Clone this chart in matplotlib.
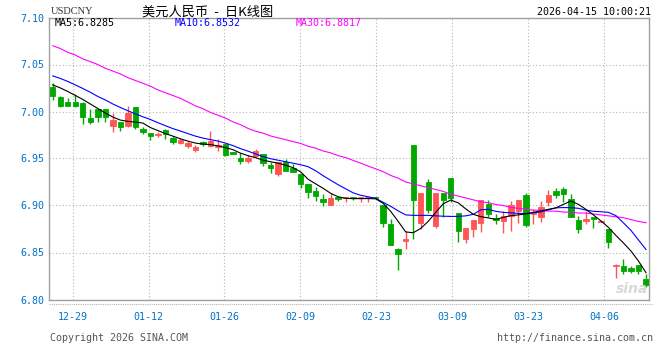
import matplotlib
matplotlib.use('Agg')
import matplotlib.pyplot as plt
from matplotlib.lines import Line2D

# daily candles, USDCNY
opens = [7.0265, 7.0152, 7.0098, 7.0098, 7.0088, 6.9931, 7.0027, 7.0027, 6.9848, 6.9885,
         6.9848, 7.0045, 6.9813, 6.9770, 6.9749, 6.9802, 6.9714, 6.9664, 6.9635, 6.9592,
         6.9671, 6.9635, 6.9618, 6.9653, 6.9571, 6.9500, 6.9475, 6.9525, 6.9546, 6.9429,
         6.9333, 6.9458, 6.9404, 6.9340, 6.9226, 6.9154, 6.9073, 6.9005, 6.9095, 6.9077,
         6.9095, 6.9077, 6.9077, 6.9095, 6.9002, 6.8799, 6.8532, 6.8621, 6.9646, 6.8810,
         6.9251, 6.8781, 6.9130, 6.9290, 6.8924, 6.8639, 6.8746, 6.8810, 6.9012, 6.8870,
         6.8834, 6.8888, 6.8941, 6.9112, 6.8906, 6.8881, 6.9037, 6.9151, 6.9173, 6.9066,
         6.8842, 6.8834, 6.8881, 6.8828, 6.8753, 6.8358, 6.8361, 6.8337, 6.8372, 6.8222]
highs = [7.0304, 7.0162, 7.0141, 7.0187, 7.0098, 7.0027, 7.0027, 7.0027, 6.9981, 6.9885,
         7.0062, 7.0045, 6.9831, 6.9770, 6.9784, 6.9813, 6.9742, 6.9714, 6.9688, 6.9642,
         6.9682, 6.9795, 6.9706, 6.9653, 6.9571, 6.9557, 6.9539, 6.9600, 6.9546, 6.9458,
         6.9464, 6.9493, 6.9440, 6.9340, 6.9226, 6.9197, 6.9119, 6.9137, 6.9095, 6.9095,
         6.9095, 6.9095, 6.9095, 6.9095, 6.9002, 6.8852, 6.8550, 6.8727, 6.9646, 6.9130,
         6.9279, 6.9130, 6.9130, 6.9290, 6.8924, 6.8756, 6.8845, 6.9055, 6.9055, 6.8913,
         6.8941, 6.9048, 6.9055, 6.9130, 6.8967, 6.9048, 6.9162, 6.9191, 6.9201, 6.9119,
         6.8888, 6.8938, 6.8881, 6.8840, 6.8753, 6.8377, 6.8433, 6.8361, 6.8372, 6.8273]
lows = [7.0126, 7.0045, 7.0062, 7.0045, 6.9867, 6.9867, 6.9885, 6.9885, 6.9778, 6.9795,
        6.9831, 6.9813, 6.9760, 6.9699, 6.9731, 6.9706, 6.9653, 6.9650, 6.9610, 6.9571,
        6.9635, 6.9618, 6.9581, 6.9528, 6.9546, 6.9440, 6.9447, 6.9511, 6.9415, 6.9351,
        6.9315, 6.9368, 6.9357, 6.9191, 6.9077, 6.9048, 6.8994, 6.9005, 6.9048, 6.9037,
        6.9059, 6.9037, 6.9037, 6.9080, 6.8772, 6.8585, 6.8311, 6.8532, 6.8639, 6.8753,
        6.8924, 6.8756, 6.8881, 6.9037, 6.8610, 6.8596, 6.8660, 6.8717, 6.8874, 6.8799,
        6.8710, 6.8727, 6.8817, 6.8774, 6.8806, 6.8828, 6.8994, 6.9084, 6.9037, 6.8881,
        6.8710, 6.8799, 6.8764, 6.8820, 6.8550, 6.8228, 6.8276, 6.8283, 6.8276, 6.8138]
closes = [7.0169, 7.0062, 7.0062, 7.0062, 6.9944, 6.9885, 6.9938, 6.9944, 6.9909, 6.9838,
          6.9984, 6.9838, 6.9784, 6.9735, 6.9760, 6.9760, 6.9678, 6.9696, 6.9661, 6.9618,
          6.9653, 6.9682, 6.9646, 6.9539, 6.9546, 6.9475, 6.9504, 6.9578, 6.9447, 6.9397,
          6.9464, 6.9368, 6.9357, 6.9226, 6.9144, 6.9101, 6.9037, 6.9084, 6.9073, 6.9095,
          6.9077, 6.9095, 6.9095, 6.9080, 6.8810, 6.8585, 6.8489, 6.8646, 6.9058, 6.9130,
          6.8952, 6.9130, 6.9058, 6.9077, 6.8727, 6.8756, 6.8845, 6.9055, 6.8906, 6.8845,
          6.8888, 6.9002, 6.9055, 6.8791, 6.8930, 6.8988, 6.9109, 6.9112, 6.9119, 6.8881,
          6.8753, 6.8860, 6.8860, 6.8832, 6.8610, 6.8362, 6.8300, 6.8308, 6.8300, 6.8151]

ma5 = [7.0283, 7.0251, 7.0213, 7.0171, 7.0128, 7.0080, 7.0032, 6.9984, 6.9941, 6.9909,
       6.9895, 6.9888, 6.9877, 6.9829, 6.9797, 6.9765, 6.9738, 6.9710, 6.9685, 6.9664,
       6.9653, 6.9648, 6.9634, 6.9616, 6.9594, 6.9557, 6.9530, 6.9509, 6.9482, 6.9466,
       6.9450, 6.9429, 6.9402, 6.9359, 6.9279, 6.9231, 6.9183, 6.9130, 6.9093, 6.9076,
       6.9073, 6.9073, 6.9074, 6.9071, 6.9023, 6.8938, 6.8831, 6.8719, 6.8710, 6.8756,
       6.8831, 6.8927, 6.9018, 6.9058, 6.9028, 6.8964, 6.8906, 6.8881, 6.8868, 6.8852,
       6.8874, 6.8892, 6.8900, 6.8911, 6.8927, 6.8943, 6.8959, 6.8975, 6.9012, 6.9048,
       6.9012, 6.8959, 6.8900, 6.8836, 6.8767, 6.8681, 6.8601, 6.8516, 6.8409, 6.8285]
ma10 = [7.0379, 7.0352, 7.0320, 7.0283, 7.0245, 7.0205, 7.0160, 7.0123, 7.0080, 7.0043,
        7.0008, 6.9975, 6.9944, 6.9915, 6.9881, 6.9849, 6.9818, 6.9792, 6.9765, 6.9738,
        6.9717, 6.9701, 6.9685, 6.9664, 6.9637, 6.9605, 6.9578, 6.9549, 6.9520, 6.9498,
        6.9482, 6.9466, 6.9450, 6.9434, 6.9413, 6.9370, 6.9317, 6.9269, 6.9221, 6.9178,
        6.9135, 6.9109, 6.9093, 6.9076, 6.9034, 6.8991, 6.8943, 6.8900, 6.8895, 6.8895,
        6.8895, 6.8890, 6.8886, 6.8884, 6.8884, 6.8890, 6.8906, 6.8954, 6.8959, 6.8938,
        6.8927, 6.8922, 6.8916, 6.8914, 6.8922, 6.8932, 6.8954, 6.8975, 6.8978, 6.8977,
        6.8970, 6.8951, 6.8938, 6.8934, 6.8927, 6.8892, 6.8815, 6.8735, 6.8633, 6.8532]
ma30 = [7.070, 7.067, 7.063, 7.060, 7.056, 7.053, 7.050, 7.046, 7.043, 7.040,
        7.036, 7.033, 7.030, 7.027, 7.023, 7.020, 7.017, 7.014, 7.010, 7.006,
        7.003, 6.999, 6.996, 6.993, 6.989, 6.986, 6.982, 6.979, 6.977, 6.974,
        6.972, 6.970, 6.968, 6.966, 6.963, 6.961, 6.958, 6.956, 6.953, 6.951,
        6.948, 6.945, 6.942, 6.939, 6.936, 6.932, 6.929, 6.925, 6.923, 6.921,
        6.919, 6.917, 6.915, 6.912, 6.910, 6.908, 6.906, 6.904, 6.903, 6.901,
        6.900, 6.898, 6.897, 6.896, 6.895, 6.895, 6.894, 6.894, 6.893, 6.893,
        6.892, 6.892, 6.891, 6.890, 6.889, 6.888, 6.887, 6.885, 6.883, 6.8817]

tick_labels = ['12-29', '01-12', '01-26', '02-09', '02-23', '03-09', '03-23', '04-06']
y_ticks = [6.80, 6.85, 6.90, 6.95, 7.00, 7.05, 7.10]

UP = '#ff5555'
DOWN = '#00a800'
BLUE_TXT = '#0073c6'
GRID = '#b4b4b4'
MONO = 'DejaVu Sans Mono'
W, H = 660, 360

fig = plt.figure(figsize=(6.6, 3.6), dpi=100)
ax = fig.add_axes([49 / W, 1 - 299.5 / H, 600 / W, 282 / H])

n = len(closes)
idx = list(range(n))
colors = [UP if c >= o else DOWN for o, c in zip(opens, closes)]
bottoms = [min(o, c) for o, c in zip(opens, closes)]
heights = [abs(c - o) for o, c in zip(opens, closes)]

ax.vlines(idx, lows, highs, colors=colors, linewidth=1, zorder=2)
ax.bar(idx, heights, bottom=bottoms, width=0.72, color=colors, edgecolor=colors,
       linewidth=0.6, zorder=3)

ax.plot(idx, ma30, color='#ff00ff', linewidth=0.8, zorder=4)
ax.plot(idx, ma10, color='#0000ff', linewidth=0.8, zorder=4)
ax.plot(idx, ma5, color='black', linewidth=0.8, zorder=4)

ax.set_xlim(-0.5, 79.4)
ax.set_ylim(6.80, 7.10)

# date gridlines sit every ~10.1 bars
xt = [2.65 + 10.11 * k for k in range(len(tick_labels))]
ax.set_xticks(xt)
ax.set_xticklabels(tick_labels, fontfamily=MONO, fontsize=7.2, color=BLUE_TXT)
ax.set_yticks(y_ticks)
ax.set_yticklabels(['%.2f' % v for v in y_ticks], fontfamily=MONO, fontsize=7.2,
                   color=BLUE_TXT)
ax.tick_params(axis='both', length=0)
ax.tick_params(axis='x', pad=9)
ax.tick_params(axis='y', pad=3)
ax.grid(True, color=GRID, linestyle=(0, (1, 2)), linewidth=0.8, zorder=0)
for s in ax.spines.values():
    s.set_color('#a0a0a0')
    s.set_linewidth(1)

# dotted strip under the plot
fig.add_artist(Line2D([49 / W, 652 / W], [1 - 304 / H, 1 - 304 / H], color=GRID,
                      linestyle=(0, (1, 1)), linewidth=0.8))

# header
fig.text(51 / W, 1 - 12 / H, 'USDCNY', fontfamily='Liberation Serif', fontsize=7.5,
         color='#333333', va='center', ha='left')
fig.text(142 / W, 1 - 12 / H, '美元人民币  -  日K线图',
         fontfamily=['Noto Sans CJK SC', 'DejaVu Sans'], fontsize=9.5, color='black',
         va='center', ha='left')
fig.text(651 / W, 1 - 12 / H, '2026-04-15 10:00:21', fontfamily=MONO, fontsize=7.2,
         color='black', va='center', ha='right')

# MA legend inside the frame
fig.text(55 / W, 1 - 23 / H, 'MA5:6.8285', fontfamily=MONO, fontsize=7.2,
         color='black', va='center')
fig.text(175 / W, 1 - 23 / H, 'MA10:6.8532', fontfamily=MONO, fontsize=7.2,
         color='#0000ff', va='center')
fig.text(296 / W, 1 - 23 / H, 'MA30:6.8817', fontfamily=MONO, fontsize=7.2,
         color='#ff00ff', va='center')

# footer
fig.text(50 / W, 1 - 338 / H, 'Copyright 2026 SINA.COM', fontfamily=MONO,
         fontsize=7.2, color='#555555', va='center')
fig.text(653 / W, 1 - 338 / H, 'http://finance.sina.com.cn', fontfamily=MONO,
         fontsize=7.2, color='#555555', va='center', ha='right')

# faint watermark
fig.text(632 / W, 1 - 289 / H, 'sina', fontfamily='DejaVu Sans', fontsize=10,
         fontweight='bold', style='italic', color='#d8d8d8', va='center',
         ha='center', zorder=0)

fig.savefig('out.png', dpi=100)
